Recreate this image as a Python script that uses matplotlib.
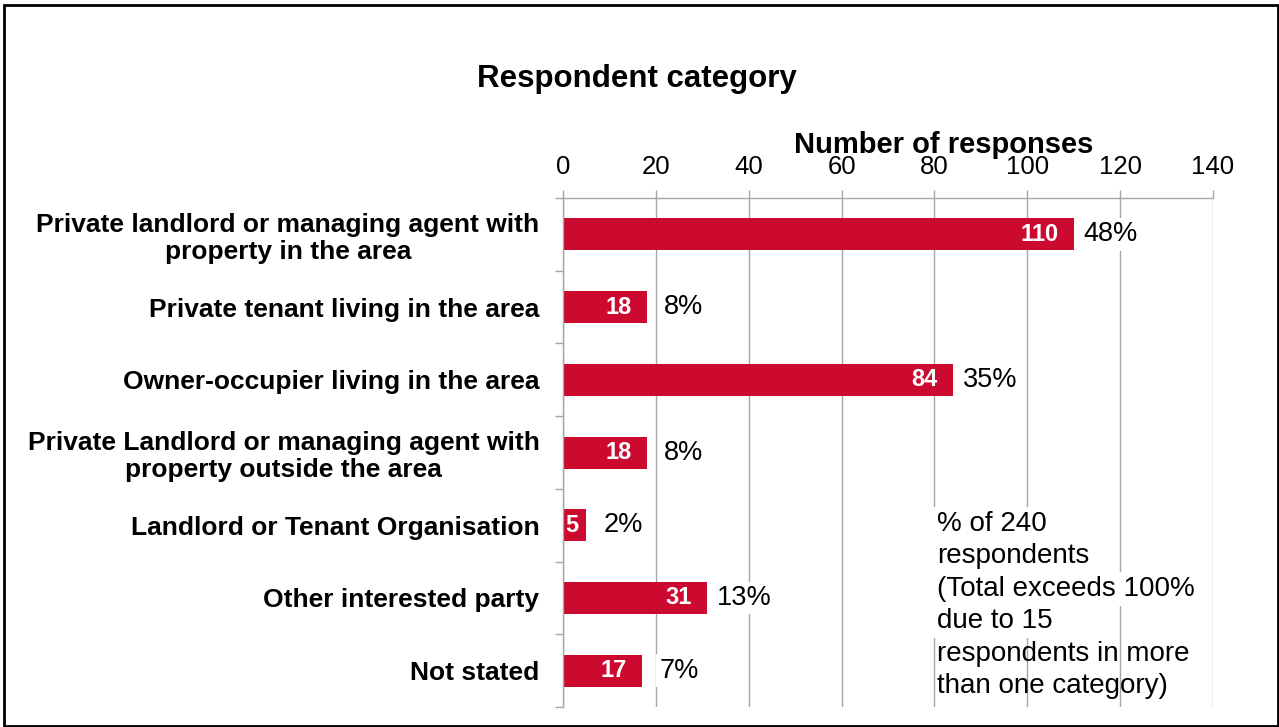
import matplotlib
matplotlib.use("Agg")
import matplotlib.pyplot as plt
import numpy as np
from matplotlib.patches import Rectangle

plt.rcParams['font.family'] = ['Liberation Sans', 'DejaVu Sans']

categories = [
    "Private landlord or managing agent with\nproperty in the area",
    "Private tenant living in the area",
    "Owner-occupier living in the area",
    "Private Landlord or managing agent with\nproperty outside the area",
    "Landlord or Tenant Organisation",
    "Other interested party",
    "Not stated",
]
responses = [110, 18, 84, 18, 5, 31, 17]
percent = [48, 8, 35, 8, 2, 13, 7]
xticks = [0, 20, 40, 60, 80, 100, 120, 140]
note_lines = ["% of 240", "respondents", "(Total exceeds 100%", "due to 15",
              "respondents in more", "than one category)"]

bar_color = '#CC0A30'
grid_color = '#A6A6A6'

fig = plt.figure(figsize=(12.79, 7.27), dpi=100)
ax = fig.add_axes([0.4402, 0.0275, 0.5082, 0.7001])

y = np.arange(len(categories))
ax.barh(y, responses, height=0.44, color=bar_color, zorder=2)

ax.set_xlim(0, 140)
ax.set_ylim(len(categories) - 0.5, -0.5)

# axis on top, gridlines down through the plot
ax.xaxis.tick_top()
ax.set_xticks(xticks)
ax.tick_params(axis='x', which='major', direction='out', length=6, width=1,
               color=grid_color, labelsize=18.5, pad=8)
ax.grid(axis='x', color=grid_color, linewidth=1, zorder=0)
ax.set_axisbelow(True)

ax.set_yticks(y)
ax.set_yticklabels(categories, fontsize=19, fontweight='bold',
                   multialignment='center', linespacing=1.14)
ax.set_yticks(np.arange(len(categories) + 1) - 0.5, minor=True)
ax.tick_params(axis='y', which='major', length=0, pad=17)
ax.tick_params(axis='y', which='minor', direction='out', length=6, width=1, color=grid_color)

for side in ('right', 'bottom'):
    ax.spines[side].set_visible(False)
for side in ('top', 'left'):
    ax.spines[side].set_color(grid_color)
    ax.spines[side].set_linewidth(1)

# counts inside the bar ends, shares to the right
for yi, v, p in zip(y, responses, percent):
    if v < 8:
        # too short to fit the count before the end, start it at the axis
        ax.annotate(str(v), (0, yi), xytext=(1.5, 0), textcoords='offset points',
                    ha='left', va='center', color='white', fontsize=17,
                    fontweight='bold', zorder=3)
    else:
        ax.annotate(str(v), (v, yi), xytext=(-11, 0), textcoords='offset points',
                    ha='right', va='center', color='white', fontsize=17,
                    fontweight='bold', zorder=3)
    ax.text(v + 8, yi, f"{p}%", ha='center', va='center', fontsize=19.5,
            color='black', zorder=4,
            bbox=dict(boxstyle='square,pad=0.12', facecolor='white', edgecolor='none'))

# note on the share labels; first four lines sit on a white box
for i, line in enumerate(note_lines):
    box = None
    if i < 4:
        box = dict(boxstyle='square,pad=0.15', facecolor='white', edgecolor='none')
    ax.text(0.575, 0.3595 - i * 0.0637, line, transform=ax.transAxes,
            ha='left', va='center', fontsize=20, zorder=4 - 0.1 * i, bbox=box)

fig.text(0.498, 0.892, "Respondent category", ha='center', va='center',
         fontsize=22.5, fontweight='bold')
fig.text(0.738, 0.800, "Number of responses", ha='center', va='center',
         fontsize=21, fontweight='bold')

fig.patches.append(Rectangle((0.003, 0.001), 0.996, 0.992, transform=fig.transFigure,
                             fill=False, edgecolor='black', linewidth=2))

fig.savefig("out.png", dpi=100, facecolor='white')
